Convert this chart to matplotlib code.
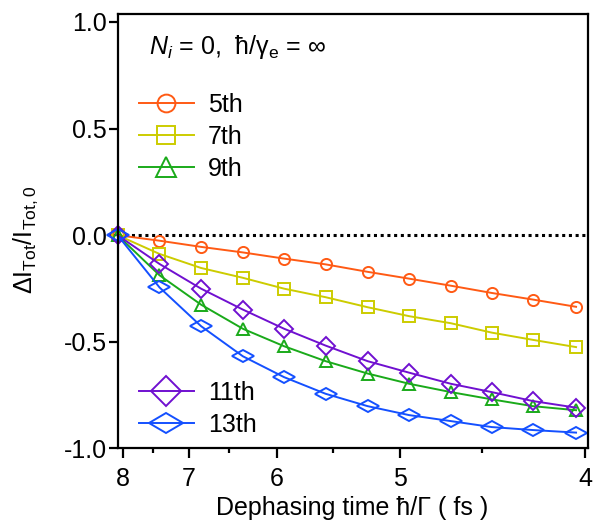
import numpy as np
import matplotlib
matplotlib.use("Agg")
import matplotlib.pyplot as plt
from matplotlib.markers import MarkerStyle
from matplotlib.transforms import Affine2D

plt.rcParams['font.family'] = ['Liberation Sans', 'DejaVu Sans']
plt.rcParams['mathtext.fontset'] = 'custom'
plt.rcParams['mathtext.rm'] = 'Liberation Sans'
plt.rcParams['mathtext.it'] = 'Liberation Sans:italic'

# dephasing time (fs), points equally spaced in 1/tau
tau = [8.09, 7.41, 6.84, 6.35, 5.93, 5.56, 5.23, 4.94, 4.68, 4.45, 4.24, 4.04]

h5 = [0, -0.026, -0.055, -0.081, -0.110, -0.137, -0.172, -0.204, -0.237, -0.271, -0.302, -0.336]
h7 = [0, -0.088, -0.154, -0.200, -0.251, -0.291, -0.338, -0.380, -0.413, -0.457, -0.491, -0.525]
h9 = [0, -0.188, -0.326, -0.439, -0.521, -0.591, -0.649, -0.697, -0.736, -0.770, -0.802, -0.821]
h11 = [0, -0.135, -0.251, -0.349, -0.439, -0.518, -0.591, -0.645, -0.697, -0.736, -0.778, -0.809]
h13 = [0, -0.245, -0.427, -0.568, -0.666, -0.744, -0.802, -0.844, -0.872, -0.900, -0.914, -0.926]

xticks = [8, 7, 6, 5, 4]
xminor = [7.5, 6.5, 5.5, 4.5]
yticks = [-1.0, -0.5, 0.0, 0.5, 1.0]
xlims = (8.09, 3.99)

fs = 18
fig = plt.figure(figsize=(5.98, 5.30), dpi=100)
ax = fig.add_axes([0.1965, 0.154, 0.786, 0.8195])

# x axis is linear in 1/tau, labelled in tau
gam = 1.0 / np.array(tau)

wide_diamond = MarkerStyle('d', transform=Affine2D().rotate_deg(90))

ax.axhline(0, color='black', ls=(0, (1, 1.2)), lw=2.2, zorder=1)

kw = dict(lw=1.4, mfc='none', mew=1.4, clip_on=False)
l5, = ax.plot(gam, h5, marker='o', ms=8, color='#ff5a14', label='5th', **kw)
l7, = ax.plot(gam, h7, marker='s', ms=8, color='#cccc00', label='7th', **kw)
l9, = ax.plot(gam, h9, marker='^', ms=9, color='#1aaa1a', label='9th', **kw)
l11, = ax.plot(gam, h11, marker='D', ms=9.5, color='#7010d0', label='11th', **kw)
l13, = ax.plot(gam, h13, marker=wide_diamond, ms=11, color='#1450ff', label='13th', **kw)

ax.set_xlim(1.0 / xlims[0], 1.0 / xlims[1])
ax.set_ylim(-1.0, 1.037)

ax.set_xticks([1.0 / t for t in xticks])
ax.set_xticklabels([str(t) for t in xticks])
ax.set_xticks([1.0 / t for t in xminor], minor=True)
ax.set_xticklabels([], minor=True)
ax.set_yticks(yticks)
ax.set_yticklabels([f"{v:.1f}" for v in yticks])

for s in ax.spines.values():
    s.set_linewidth(1.6)
ax.tick_params(axis='both', which='major', labelsize=fs, width=1.6, direction='out')
ax.tick_params(axis='x', which='major', length=7.2, pad=6)
ax.tick_params(axis='x', which='minor', length=3.6, width=1.6)
ax.tick_params(axis='y', which='major', length=6.5, pad=1)

ax.set_xlabel('Dephasing time ħ/Γ ( fs )', fontsize=fs, labelpad=4)
ax.set_ylabel(r'ΔI$_{\rm Tot}$/I$_{\rm Tot,0}$', fontsize=fs)
ax.yaxis.set_label_coords(-0.165, 0.48)

ax.text(0.067, 0.909, r'$N_i$ = 0,  ħ/γ$_{\rm e}$ = ∞', transform=ax.transAxes,
        fontsize=fs, va='baseline', ha='left')

leg_kw = dict(frameon=False, fontsize=fs, handlelength=2.2, handletextpad=0.55,
              labelspacing=0.32, borderpad=0, borderaxespad=0, markerscale=1.6)
leg1 = ax.legend(handles=[l5, l7, l9], loc='upper left', bbox_to_anchor=(0.0457, 0.819), **leg_kw)
ax.add_artist(leg1)
ax.legend(handles=[l11, l13], loc='lower left', bbox_to_anchor=(0.0457, 0.0265), **leg_kw)

fig.savefig('out.png', dpi=100)
